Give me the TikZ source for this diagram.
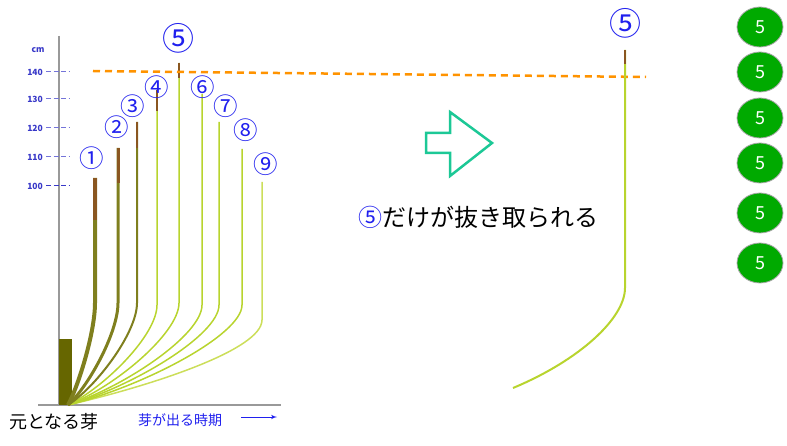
\documentclass[tikz,border=0pt]{standalone}
\usepackage{fontspec}
\setmainfont{Noto Sans CJK JP}
\usepackage{tikz}
\usetikzlibrary{positioning,arrows,calc,shapes.geometric}
\definecolor{olivestem}{HTML}{7F7F1E}
\definecolor{limestem}{HTML}{B8D42E}
\definecolor{palestem}{HTML}{CCDE5A}
\definecolor{brownstem}{HTML}{8A5620}
\definecolor{budbar}{HTML}{666600}
\definecolor{numblue}{HTML}{2020EE}
\definecolor{tickblue}{HTML}{3838C8}
\definecolor{markorange}{HTML}{FF9300}
\definecolor{arrowteal}{HTML}{1CC896}
\definecolor{budgreen}{HTML}{00AA00}
\tikzset{
    stem/.style = {
        line width=1.5pt,
        color=limestem
    },
    oldstem/.style = {
        color=olivestem
    },
    tip/.style = {
        color=brownstem
    },
    num/.style = {
        text=numblue,
        inner sep=0pt,
        font=\fontsize{24.5}{24.5}\selectfont
    },
    ticklabel/.style = {
        text=tickblue,
        anchor=east,
        inner sep=0pt,
        font=\fontsize{8.5}{8.5}\selectfont\bfseries
    },
    tick/.style = {
        color=tickblue!70,
        line width=1pt,
        dash pattern=on 5pt off 2.5pt
    },
    bud5/.style = {
        draw=gray!70,
        line width=0.8pt,
        fill=budgreen,
        shape=ellipse,
        minimum width=46pt,
        minimum height=40pt,
        inner sep=0pt,
        text=white,
        font=\fontsize{18}{18}\selectfont
    },
    >=latex',
}

\begin{document}
\begin{tikzpicture}[x=1pt,y=-1pt]
            \useasboundingbox (0,0) rectangle (787,446);

            % axes
            \path[draw, gray!80, line width=1.2pt] (59,36) -- (59,405);
            \path[draw, gray!80, line width=1.2pt] (38,405) -- (281,405);
            \node[ticklabel, anchor=center] (unit) at (38,50) {cm};
            \node[ticklabel] (t140) at (43,72) {140};
            \node[ticklabel] (t130) at (43,99) {130};
            \node[ticklabel] (t120) at (43,128) {120};
            \node[ticklabel] (t110) at (43,157) {110};
            \node[ticklabel] (t100) at (43,186) {100};
            \path[draw, tick] (46,72) -- (69,72);
            \path[draw, tick] (46,99) -- (69,99);
            \path[draw, tick] (46,128) -- (69,128);
            \path[draw, tick] (46,157) -- (69,157);
            \path[draw, tick, color=tickblue] (46,186) -- (69,186);

            % original bud
            \path[fill=budbar] (59,339) rectangle (72,405);
            \coordinate (root) at (68,405);

            % shoots
            \path[draw, stem, palestem] (262,182) -- (262,320) .. controls (262,350) and (150,386) .. (root);
            \path[draw, stem] (242,149) -- (242,305) .. controls (242,335) and (142,387) .. (root);
            \path[draw, stem] (219,122) -- (219,305) .. controls (219,335) and (132,387) .. (root);
            \path[draw, stem] (202,94) -- (202,305) .. controls (202,335) and (124,387) .. (root);
            \path[draw, stem] (179,63) -- (179,303) .. controls (179,333) and (115,387) .. (root);
            \path[draw, stem] (157,90) -- (157,305) .. controls (157,335) and (105,387) .. (root);
            \path[draw, stem, oldstem, line width=2pt] (137,122) -- (137,303) .. controls (137,333) and (96,387) .. (root);
            \path[draw, stem, oldstem, line width=3pt] (118,148) -- (118,303) .. controls (118,333) and (88,387) .. (root);
            \path[draw, stem, oldstem, line width=4pt] (95,178) -- (95,303) .. controls (95,333) and (78,387) .. (root);
            \path[draw, tip, line width=4pt] (95,178) -- (95,220);
            \path[draw, tip, line width=3pt] (118,148) -- (118,183);
            \path[draw, tip, line width=2pt] (137,122) -- (137,148);
            \path[draw, tip, line width=1.5pt] (157,90) -- (157,111);
            \path[draw, tip, line width=1.5pt] (179,63) -- (179,78);

            \node[num] (n1) at (92,158) {①};
            \node[num] (n2) at (117,127) {②};
            \node[num] (n3) at (133,106) {③};
            \node[num] (n4) at (157,87) {④};
            \node[num, font=\fontsize{32}{32}\selectfont] (n5) at (178,38) {⑤};
            \node[num] (n6) at (203,87) {⑥};
            \node[num] (n7) at (226,106) {⑦};
            \node[num] (n8) at (246,130) {⑧};
            \node[num] (n9) at (266,164) {⑨};

            % height mark
            \path[draw, markorange, line width=2.5pt, dash pattern=on 7pt off 5pt] (93,71) -- (646,77);

            \node[font=\fontsize{18}{18}\selectfont] (origin) at (54,422) {元となる芽};
            \node[text=numblue, font=\fontsize{14}{14}\selectfont] (period) at (180,420) {芽が出る時期};
            \path[draw, ->, numblue, line width=1pt] (241,417) -- (277,417);

            % arrow and caption
            \path[draw, arrowteal, line width=2.5pt, line join=miter] (426,133) -- (450,133) -- (450,112) -- (492,143) -- (450,176) -- (450,153) -- (426,153) -- cycle;
            \node[font=\fontsize{24}{24}\selectfont] (caption) at (478,217) {\textcolor{numblue}{⑤}だけが抜き取られる};

            % the shoot that was taken
            \path[draw, stem, line width=2pt] (625,50) -- (625,288) .. controls (625,318) and (580,360) .. (513,388);
            \path[draw, tip, line width=2pt] (625,50) -- (625,64);
            \node[num, font=\fontsize{32}{32}\selectfont] (m5) at (625,23) {⑤};

            % buds
            \node[bud5] (b1) at (760,27) {5};
            \node[bud5] (b2) at (760,72) {5};
            \node[bud5] (b3) at (760,118) {5};
            \node[bud5] (b4) at (760,163) {5};
            \node[bud5] (b5) at (760,213) {5};
            \node[bud5] (b6) at (760,263) {5};
        \end{tikzpicture}
\end{document}
